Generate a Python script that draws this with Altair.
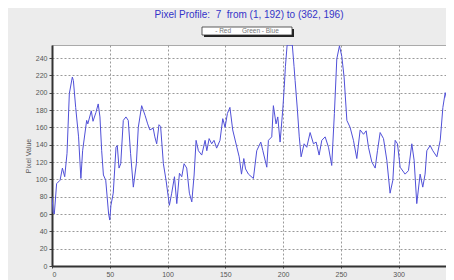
import altair as alt
import pandas as pd

# Blue channel profile values
dist = [0, 1, 2, 4, 7, 9, 11, 13, 15, 17.6, 18.5, 20.5, 23, 25, 26.5, 30, 31, 34, 35.5, 38,
        40, 41.5, 43, 44.5, 46.5, 49, 50, 51, 53, 55.4, 56.5, 58, 59.5, 61.7, 64, 66, 68,
        70.4, 73, 74.7, 77.6, 80.5, 82.8, 84.7, 87.6, 89, 90.6, 92.6, 94, 96.4, 98.7, 101.6,
        103.6, 106, 108, 110.3, 112.3, 114.3, 116.6, 118.9, 121, 123, 124.7, 126.7, 129.6,
        132.5, 134, 136, 138.2, 140.2, 142.5, 145.4, 147.8, 149.8, 151.8, 154, 156.4, 160,
        162, 164, 166, 167.5, 170, 174.3, 177.2, 180.7, 182.5, 185.9, 187.3, 190.2, 191.6,
        193.9, 195.4, 197.4, 199.7, 201, 202, 203.5, 208, 209.5, 210.4, 212.4, 214, 215.6,
        218.2, 220.5, 223.4, 226.3, 228.6, 231.2, 233.5, 236.4, 239.3, 242.1, 244.4, 246.5,
        248.8, 250.8, 252.8, 255.2, 258, 260.9, 263.8, 266.7, 269.6, 271.9, 273.9, 276.8,
        279.7, 281.7, 284, 286.9, 289.8, 292.6, 295, 297, 299, 301.3, 305.6, 308.5, 311.4,
        313.4, 315.7, 318.6, 320.9, 322.9, 324.4, 327.3, 329.6, 333.1, 336, 338.3, 340.3,
        343.2, 347.5, 350, 355, 362]
blue = [80, 62, 60, 95, 99, 113, 103, 130, 199, 218, 214, 183, 149, 101, 133, 168, 164, 179, 167, 177,
        187, 172, 133, 105, 99, 60, 53, 70, 84, 137, 139, 113, 118, 168, 172, 168, 130,
        91, 118, 160, 185, 174, 164, 157, 159, 149, 141, 163, 161, 118, 99, 70,
        84, 103, 72, 107, 103, 118, 113, 84, 74, 105, 145, 133, 128,
        145, 133, 147, 141, 145, 136, 145, 170, 160, 176, 183, 157, 137,
        126, 106, 124, 112, 106, 101, 133, 143, 133, 114, 145, 149, 185,
        164, 172, 143, 180, 206, 230, 255, 255, 230, 214, 180, 149, 126,
        141, 137, 154, 141, 143, 128, 145, 149, 137, 116, 176, 239,
        254, 242, 218, 168, 160, 145, 124, 157, 152, 156, 137, 120,
        113, 133, 154, 147, 122, 84, 99, 145, 141, 114, 106, 110, 141,
        122, 72, 106, 91, 106, 133, 139, 133, 126, 145, 183, 200,
        183, 158, 165, 150, 140]

y_ticks = list(range(0, 241, 20))
x_ticks = [0, 50, 100, 150, 200, 250, 300]
NB = "\u00a0"
title_text = f"Pixel Profile:{NB}{NB}7{NB}{NB}from (1, 192) to (362, 196)"
legend_text = f"- Red{NB}{NB}{NB}{NB}{NB}{NB}Green - Blue"

df = pd.DataFrame({"d": dist, "v": blue})
one = pd.DataFrame({"k": [0]})
FONT = "Liberation Sans"

line = alt.Chart(df).mark_line(color="#5050d8", strokeWidth=1, clip=True).encode(
    x=alt.X("d:Q", scale=alt.Scale(domain=[0, 341], nice=False, zero=False),
            axis=alt.Axis(values=x_ticks, title="Linear Distance [Pixels]", grid=True,
                          gridDash=[2, 2], gridColor="#9a9a9a", labelFontSize=7,
                          labelColor="#555", titleFontSize=7, titleColor="#555",
                          titleFontWeight="normal", titlePadding=1, labelPadding=2,
                          tickSize=2, tickColor="#444", domainColor="#333", domainWidth=2,
                          labelFont=FONT, titleFont=FONT)),
    y=alt.Y("v:Q", scale=alt.Scale(domain=[0, 255], nice=False),
            axis=alt.Axis(values=y_ticks, title="Pixel Value", grid=True,
                          gridDash=[2, 2], gridColor="#9a9a9a", labelFontSize=7,
                          labelColor="#555", titleFontSize=7, titleColor="#555",
                          titleFontWeight="normal", titlePadding=4, labelPadding=2,
                          tickSize=3, tickColor="#444", domainColor="#333", domainWidth=2,
                          labelFont=FONT, titleFont=FONT)),
)

shadow_r = alt.Chart(one).mark_rect(fill="#222222", strokeWidth=0).encode(
    x=alt.value(240), x2=alt.value(242), y=alt.value(-16), y2=alt.value(-8))
shadow_b = alt.Chart(one).mark_rect(fill="#222222", strokeWidth=0).encode(
    x=alt.value(152), x2=alt.value(242), y=alt.value(-10), y2=alt.value(-8))
box = alt.Chart(one).mark_rect(fill="#ffffff", stroke="#333333", strokeWidth=0.8).encode(
    x=alt.value(150), x2=alt.value(240), y=alt.value(-18), y2=alt.value(-10))
legend = alt.Chart(one).mark_text(fontSize=6.5, fill="#777777", font=FONT, align="center",
                                  baseline="middle").encode(
    x=alt.value(195), y=alt.value(-14), text=alt.value(legend_text))

chart = alt.layer(line, shadow_r, shadow_b, box, legend).properties(
    width=394, height=221,
    padding={"left": 44, "top": 37, "right": 0, "bottom": 20},
    autosize=alt.AutoSizeParams(type="none"),
    background="#ececec",
    title=alt.TitleParams(title_text, fontSize=10, fontWeight="normal", color="#3434c8",
                          font=FONT, anchor="middle", offset=7),
).configure_view(fill="white", stroke="#aaaaaa", strokeWidth=1)

chart.save("out.html", embed_options={"renderer": "svg", "actions": False})
